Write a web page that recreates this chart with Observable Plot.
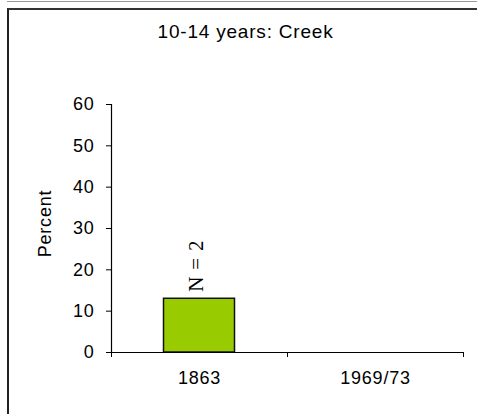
<!DOCTYPE html>
<html>
<head>
<meta charset="utf-8">
<script src="https://cdn.jsdelivr.net/npm/d3@7"></script>
<script src="https://cdn.jsdelivr.net/npm/@observablehq/plot@0.6"></script>
<style>
  html, body { margin: 0; padding: 0; background: #fff; }
  #wrap { position: relative; width: 477px; height: 414px; overflow: hidden; }
  #topline { position: absolute; left: 7px; top: 1px; width: 470px; height: 1px; background: #9a9a9a; }
  #frame { position: absolute; left: 7px; top: 8px; width: 480px; height: 420px;
           border-left: 2px solid #222; border-top: 2px solid #333; box-sizing: border-box; }
  #chart { position: absolute; left: 0; top: 0; }
</style>
</head>
<body>
<div id="wrap">
  <div id="topline"></div>
  <div id="frame"></div>
  <div id="chart"></div>
</div>
<script>
const title = "10-14 years: Creek";
const yLabel = "Percent";
const categories = ["1863", "1969/73"];
const percent = [13, null];
const nLabels = ["N = 2", ""];
const yTicks = [0, 10, 20, 30, 40, 50, 60];

const rows = categories.map((c, i) => ({i, category: c, value: percent[i], n: nLabels[i]}));
const bars = rows.filter(d => d.value != null);

const plot = Plot.plot({
  width: 477,
  height: 414,
  marginLeft: 111,
  marginRight: 14,
  marginTop: 104,
  marginBottom: 62,
  style: {fontFamily: "'Liberation Sans', Arial, sans-serif", fontSize: "18px", color: "#000", background: "transparent", overflow: "visible"},
  x: {type: "linear", domain: [0, categories.length]},
  y: {domain: [0, 60]},
  marks: [
    Plot.rectY(bars, {x1: d => d.i, x2: d => d.i + 1, y1: 0, y2: "value", insetLeft: 52.5, insetRight: 52.5,
                      fill: "#99cc00", stroke: "#111", strokeWidth: 1.5}),
    Plot.ruleX([0], {y1: 0, y2: 60, stroke: "#000", strokeWidth: 1.2}),
    Plot.ruleY([0], {x1: 0, x2: categories.length, stroke: "#000", strokeWidth: 1.2}),
    Plot.axisY({ticks: yTicks, tickSize: 5, tickPadding: 12, tickFormat: d => String(d), label: null}),
    Plot.axisX({ticks: d3.range(categories.length + 1), tickSize: 5, tickFormat: () => "", label: null}),
    Plot.axisX({ticks: categories.map((c, i) => i + 0.5), tickSize: 0, tickPadding: 19,
                tickFormat: v => categories[Math.floor(v)], label: null}),
    Plot.text(bars, {x: d => d.i + 0.5, y: "value", text: "n", rotate: -90, textAnchor: "start", lineAnchor: "middle",
                     dy: -7, dx: -3.5, fontFamily: "'Liberation Serif', 'Times New Roman', serif", fontSize: 21}),
    Plot.text([yLabel], {frameAnchor: "left", textAnchor: "middle", lineAnchor: "middle", rotate: -90, dx: -66, dy: -5, fontSize: 18}),
    Plot.text([title], {frameAnchor: "top", textAnchor: "middle", lineAnchor: "middle", dx: -42, dy: -72.3, fontSize: 19})
  ]
});
plot.querySelectorAll("text").forEach(t => t.setAttribute("letter-spacing", "0.8"));
document.getElementById("chart").appendChild(plot);
</script>
</body>
</html>
